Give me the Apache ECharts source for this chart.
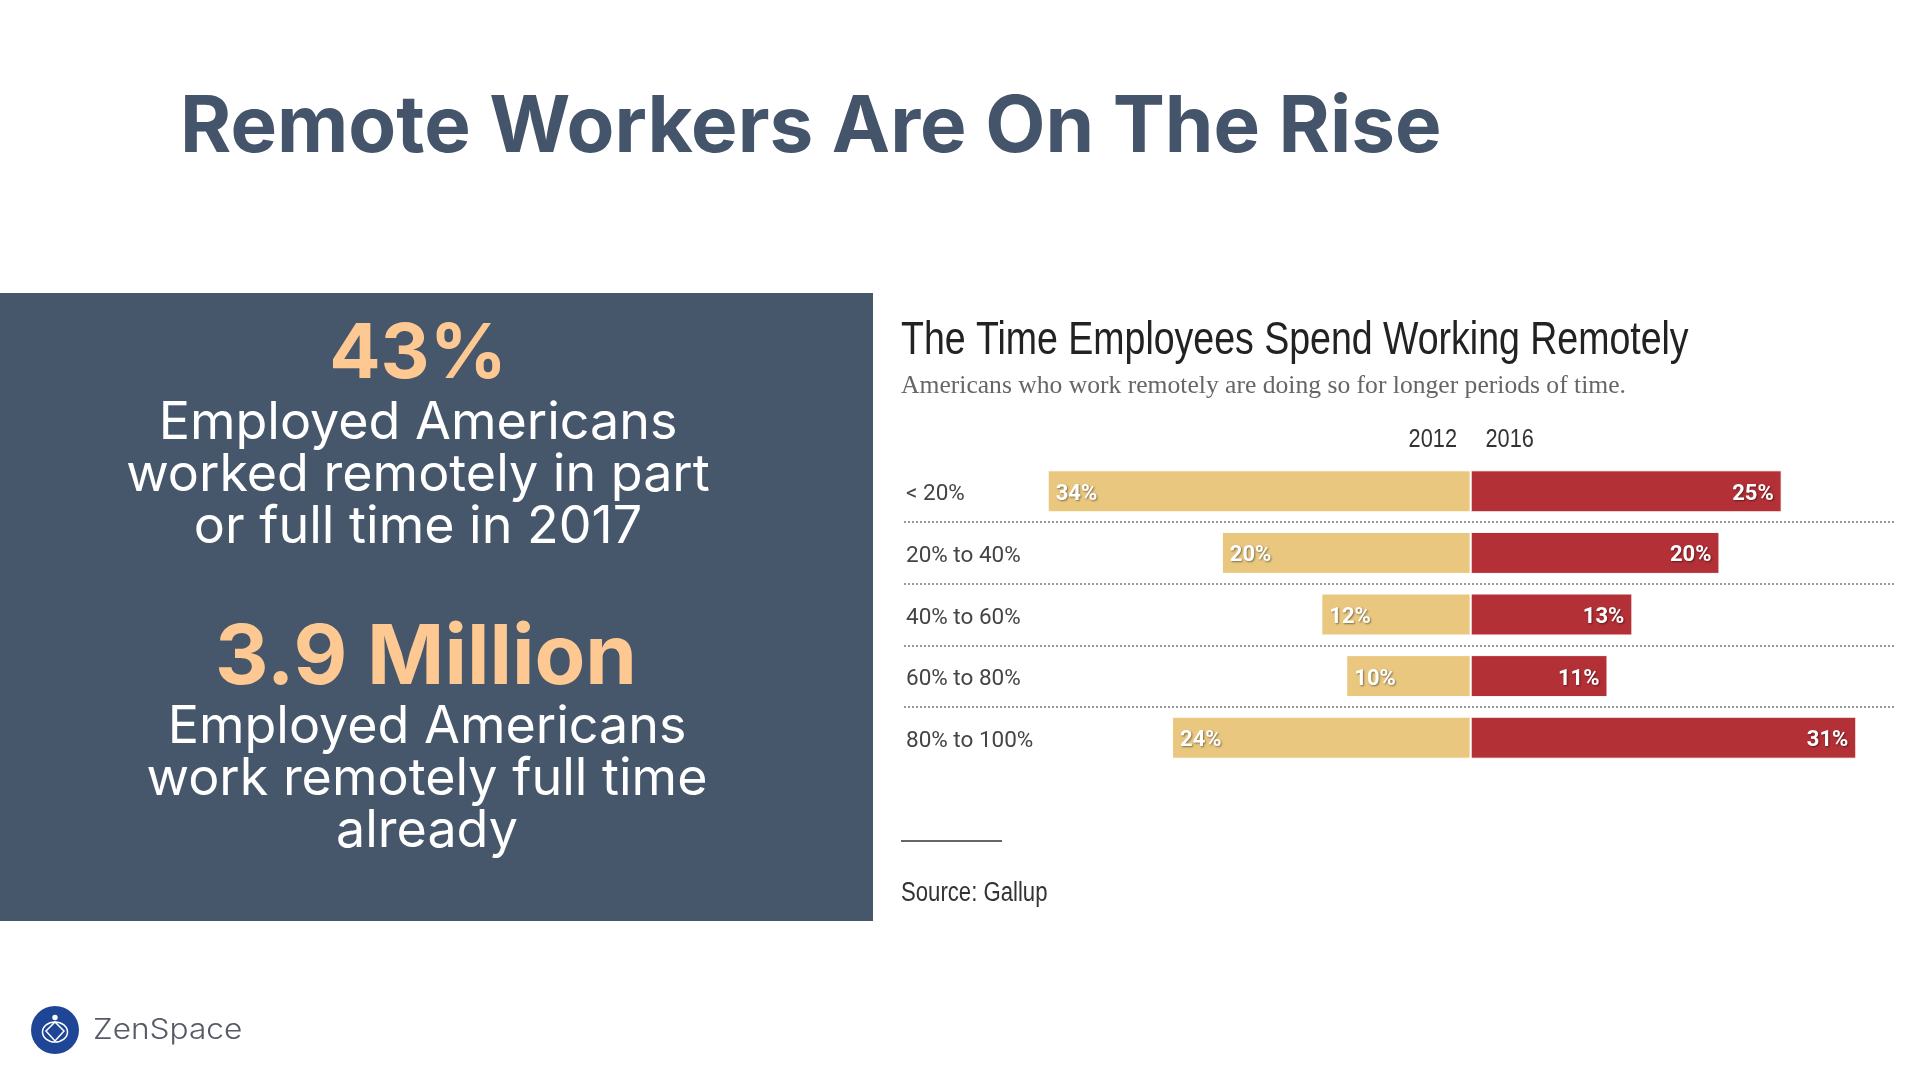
<!DOCTYPE html>
<html>
<head>
    <meta charset="utf-8">
    <title>Remote Workers Are On The Rise</title>
    <script src="https://cdn.jsdelivr.net/npm/echarts@6/dist/echarts.min.js"></script>
    <style>
        *{margin: 0;padding: 0;}
        body{background: #fff;}
    </style>
</head>
<body>
    <div id="main" style="width: 1920px;height:1080px;"></div>
    <script type="text/javascript">
        // chart data
        var categories = ['< 20%', '20% to 40%', '40% to 60%', '60% to 80%', '80% to 100%'];
        var values2012 = [34, 20, 12, 10, 24];
        var values2016 = [25, 20, 13, 11, 31];
        var yearLabels = ['2012', '2016'];

        // slide text
        var slideTitle = 'Remote Workers Are On The Rise';
        var chartTitle = 'The Time Employees Spend Working Remotely';
        var chartSubtitle = 'Americans who work remotely are doing so for longer periods of time.';
        var sourceText = 'Source: Gallup';
        var stat1 = '43%';
        var stat1Lines = ['Employed Americans', 'worked remotely in part', 'or full time in 2017'];
        var stat2 = '3.9 Million';
        var stat2Lines = ['Employed Americans', 'work remotely full time', 'already'];

        var SANS = '"Liberation Sans", sans-serif';

        function txt(x, y, text, size, color, family, weight, align, scaleX) {
            return {
                type: 'text', x: x, y: y, scaleX: scaleX || 1, silent: true,
                style: {
                    text: text, fontSize: size, fill: color, fontFamily: family,
                    fontWeight: weight || 'normal', align: align || 'left', verticalAlign: 'middle'
                }
            };
        }

        var graphics = [
            {type: 'rect', shape: {x: 0, y: 293, width: 873, height: 628}, style: {fill: '#46566B'}},
            txt(180, 128, slideTitle, 78.2, '#44546A', 'Inter', 'bold')
        ];

        // left panel
        graphics.push(txt(418, 355, stat1, 76, '#FEC892', 'Inter', 'bold', 'center'));
        [423, 475, 527].forEach(function (y, i) {
            graphics.push(txt(418, y, stat1Lines[i], 52, '#fff', 'Inter', 'normal', 'center'));
        });
        graphics.push(txt(426, 659, stat2, 83, '#FEC892', 'Inter', 'bold', 'center'));
        [727, 779, 831].forEach(function (y, i) {
            graphics.push(txt(427, y, stat2Lines[i], 52, '#fff', 'Inter', 'normal', 'center'));
        });

        // chart headings
        graphics.push(txt(901, 341, chartTitle, 46, '#222', SANS, 'normal', 'left', 0.815));
        graphics.push(txt(901, 386, chartSubtitle, 25.6, '#666', '"Liberation Serif", serif'));
        graphics.push(txt(1457, 440, yearLabels[0], 25, '#333', SANS, 'normal', 'right', 0.87));
        graphics.push(txt(1485.5, 440, yearLabels[1], 25, '#333', SANS, 'normal', 'left', 0.87));
        graphics.push({type: 'line', shape: {x1: 901, y1: 841, x2: 1002, y2: 841}, style: {stroke: '#333', lineWidth: 1.5}});
        graphics.push(txt(901, 894, sourceText, 27, '#333', SANS, 'normal', 'left', 0.82));

        // logo
        graphics.push({type: 'circle', shape: {cx: 55, cy: 1030, r: 24}, style: {fill: '#1F4596'}});
        graphics.push({type: 'circle', shape: {cx: 55, cy: 1017.5, r: 2.7}, style: {fill: '#fff'}});
        graphics.push({type: 'ellipse', shape: {cx: 55, cy: 1032, rx: 12.5, ry: 10}, style: {fill: 'none', stroke: '#fff', lineWidth: 1.5}});
        graphics.push({type: 'polygon', shape: {points: [[55, 1022], [64, 1031], [55, 1041], [46, 1031]]}, style: {fill: '#1F4596', stroke: '#fff', lineWidth: 1.5}});
        graphics.push(txt(93, 1031, 'ZenSpace', 28, '#555A66', 'Inter', 300, 'left', 1.13));

        var myChart = echarts.init(document.getElementById('main'));

        var option = {
            animation: false,
            backgroundColor: '#fff',
            graphic: graphics,
            grid: {left: 904, top: 460.5, width: 990, height: 308},
            xAxis: {
                type: 'value', min: -45.55, max: 34.03,
                axisLabel: {show: false}, axisLine: {show: false},
                axisTick: {show: false}, splitLine: {show: false}
            },
            yAxis: {
                type: 'category', inverse: true, data: categories,
                axisLine: {show: false}, axisTick: {show: false},
                axisLabel: {
                    inside: true, margin: 2,
                    formatter: '{a|{value}}',
                    rich: {a: {color: '#444', fontSize: 22.5, fontFamily: 'Roboto', padding: [7, 0, 0, 0]}}
                },
                splitLine: {
                    show: true, showMinLine: false, showMaxLine: false,
                    lineStyle: {type: 'dotted', color: '#999', width: 2}
                }
            },
            series: [
                {
                    name: yearLabels[0], type: 'bar', stack: 'years', barWidth: 42,
                    data: values2012.map(function (v) { return -v; }),
                    itemStyle: {color: '#E9C77F', borderColor: '#fff', borderWidth: 1},
                    label: {
                        show: true, position: 'insideLeft', distance: 8, offset: [0, 3],
                        formatter: function (p) { return Math.abs(p.value) + '%'; },
                        color: '#fff', fontSize: 22, fontWeight: 'bold', fontFamily: 'Roboto',
                        textShadowColor: 'rgba(0,0,0,0.45)', textShadowBlur: 2, textShadowOffsetX: 1, textShadowOffsetY: 1
                    }
                },
                {
                    name: yearLabels[1], type: 'bar', stack: 'years', barWidth: 42,
                    data: values2016,
                    itemStyle: {color: '#B23036', borderColor: '#fff', borderWidth: 1},
                    label: {
                        show: true, position: 'insideRight', distance: 8, offset: [0, 3],
                        formatter: '{c}%',
                        color: '#fff', fontSize: 22, fontWeight: 'bold', fontFamily: 'Roboto',
                        textShadowColor: 'rgba(0,0,0,0.45)', textShadowBlur: 2, textShadowOffsetX: 1, textShadowOffsetY: 1
                    }
                }
            ]
        };

        myChart.setOption(option);
    </script>
</body>
</html>
